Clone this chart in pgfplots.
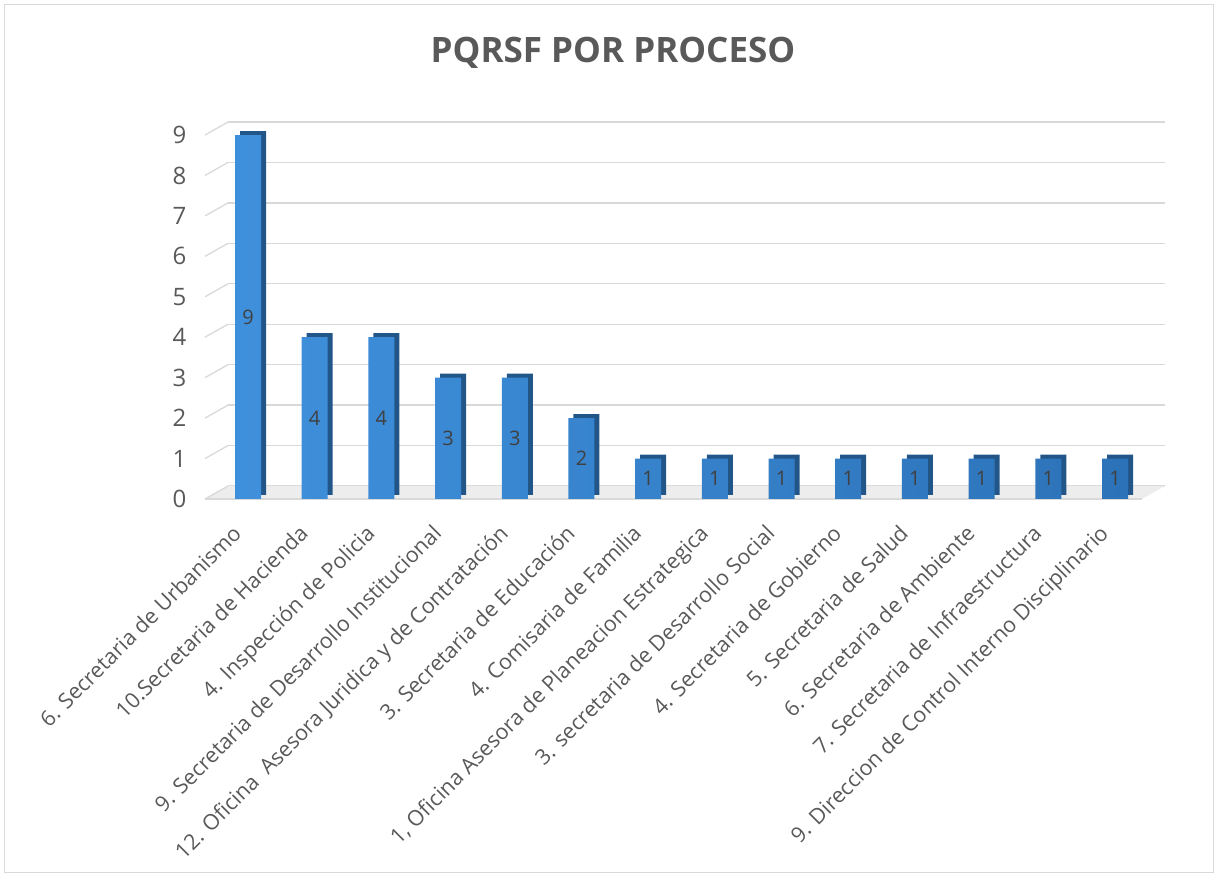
\documentclass[border=0pt]{standalone}
\usepackage{pgfplots}
\pgfplotsset{compat=1.18}
\usepackage{fontspec}
\setmainfont{Open Sans}
\definecolor{txt}{HTML}{595959}
\definecolor{lbl}{HTML}{404040}
\definecolor{gridc}{HTML}{D9D9D9}
\definecolor{floorc}{HTML}{EDEDED}
\definecolor{barL}{HTML}{3F90DC}
\definecolor{barR}{HTML}{2C72B8}
\definecolor{barS}{HTML}{225689}
\begin{document}
\begin{tikzpicture}[x=1pt,y=1pt]
\path[use as bounding box] (0,0) rectangle (1218,877);
\draw[gridc, line width=1pt] (4.5,4.5) rectangle (1213.5,872.5);
\node[text=txt, font=\fontsize{35}{40}\selectfont\bfseries] at (613,824) {PQRSF POR PROCESO};
\begin{axis}[
  at={(205pt,378pt)}, anchor=south west,
  scale only axis, width=937pt, height=364pt,
  xmin=-0.645, xmax=13.405, ymin=0, ymax=9,
  clip=false,
  axis line style={draw=none},
  major tick length=0pt,
  ymajorgrids,
  major grid style={draw=gridc, line width=1.3pt, xshift=23pt, yshift=13pt},
  ytick={0,1,2,3,4,5,6,7,8,9},
  yticklabels={0,1,2,3,4,5,6,7,8,9},
  yticklabel style={text=txt, font=\fontsize{24}{27}\selectfont, xshift=-15pt},
  xtick={0,1,2,3,4,5,6,7,8,9,10,11,12,13},
  xticklabels={
    6. Secretaria de Urbanismo,
    10.Secretaria de Hacienda,
    4. Inspección de Policia,
    9. Secretaria de Desarrollo Institucional,
    12. Oficina~ Asesora Juridica y de Contratación,
    3. Secretaria de Educación,
    4. Comisaria de Familia,
    {1, Oficina Asesora de Planeacion Estrategica},
    3. secretaria de Desarrollo Social,
    4. Secretaria de Gobierno,
    5. Secretaria de Salud,
    6. Secretaria de Ambiente,
    7. Secretaria de Infraestructura,
    9. Direccion de Control Interno Disciplinario},
  xticklabel style={text=txt, font=\fontsize{21.5}{24}\selectfont, inner sep=0pt, anchor=north east, xshift=-17pt, yshift=-24pt, rotate=45},
  /pgf/number format/assume math mode=true,
]
\fill[floorc] (axis cs:-0.645,0) -- (axis cs:13.405,0) -- ([shift={(23pt,13pt)}]axis cs:13.405,0) -- ([shift={(23pt,13pt)}]axis cs:-0.645,0) -- cycle;
\pgfplotsinvokeforeach{0,...,9}{
  \draw[gridc, line width=1.3pt] (axis cs:-0.645,#1) -- ++(23pt,13pt);
}
\draw[gridc, line width=1.3pt] (axis cs:-0.645,0) -- (axis cs:13.405,0);
\addplot[ybar, bar width=26pt, bar shift=5pt, yshift=4pt, fill=barS, draw=none]
  coordinates {(0,9) (1,4) (2,4) (3,3) (4,3) (5,2) (6,1) (7,1) (8,1) (9,1) (10,1) (11,1) (12,1) (13,1)};
\addplot[ybar, bar width=26pt, bar shift=0pt, left color=barL, right color=barR, draw=none,
  nodes near coords,
  visualization depends on=y \as \rawy,
  every node near coord/.append style={text=lbl, font=\fontsize{20}{23}\selectfont, anchor=center, shift={(axis direction cs:0,-\rawy/2)}}]
  coordinates {(0,9) (1,4) (2,4) (3,3) (4,3) (5,2) (6,1) (7,1) (8,1) (9,1) (10,1) (11,1) (12,1) (13,1)};
\end{axis}
\end{tikzpicture}
\end{document}
